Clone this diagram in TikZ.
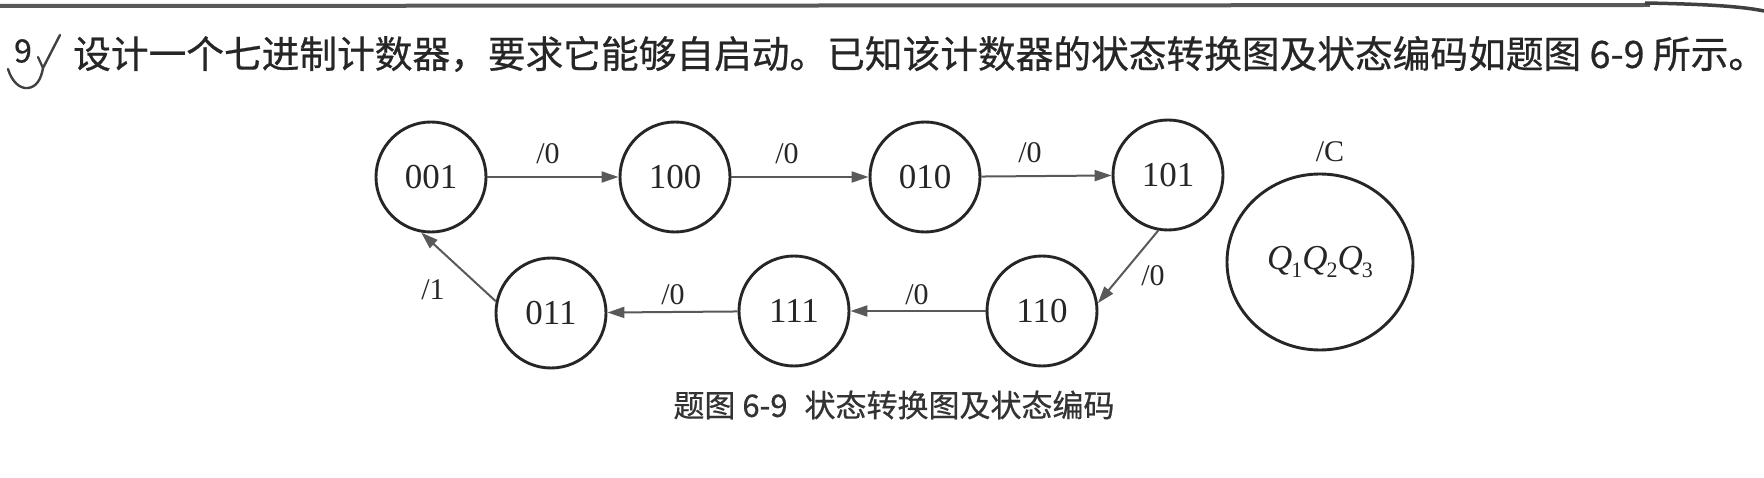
\documentclass[tikz,border=0pt]{standalone}
\usepackage{fontspec}
\setmainfont{Liberation Serif}
\newfontfamily\cjk[FakeBold=0.6]{Noto Sans CJK SC}
\usetikzlibrary{arrows.meta,shapes.geometric}
\newcommand{\qsub}[1]{\textit{Q}\kern-1pt\raisebox{-0.22em}{\fontsize{22}{22}\selectfont #1}}
\begin{document}
\begin{tikzpicture}[x=1pt,y=-1pt,
  state/.style={circle,draw=black!85,line width=2.9pt,minimum size=110pt,inner sep=0pt,font=\fontsize{35}{35}\selectfont,text=black!85},
  trans/.style={draw=black!65,line width=2pt,-{Triangle[length=17pt,width=11pt]}},
  lbl/.style={font=\fontsize{30}{30}\selectfont,text=black!85,inner sep=0pt}]
\useasboundingbox[fill=white] (0,0) rectangle (1764,478);
% top rule
\draw[line width=4pt,black!65] (0,6) -- (1650,5);
\draw[line width=3.5pt,black!75] (1645,3) .. controls (1700,4) and (1740,6) .. (1764,11);
% question number and check mark
\node[font=\cjk\fontsize{32}{32}\selectfont,text=black!85] (num) at (23,51) {9};
\draw[line width=2.4pt,black!75,line cap=round,line join=round] (8,69) .. controls (12,82) and (20,89) .. (28,88) .. controls (36,87) and (41,80) .. (43,68) -- (60,35);
\draw[line width=2.2pt,black!75,line cap=round] (38,57) -- (43,68);
% title
\node[anchor=west,font=\cjk\fontsize{37.7}{39}\selectfont,text=black!85,inner sep=0pt] (title) at (73,54) {设计一个七进制计数器，要求它能够自启动。已知该计数器的状态转换图及状态编码如题图 6-9 所示。};
% states
\node[state] (s001) at (431,177) {001};
\node[state] (s100) at (675,177) {100};
\node[state] (s010) at (925,177) {010};
\node[state] (s101) at (1168,175) {101};
\node[state] (s110) at (1042,311) {110};
\node[state] (s111) at (794,311) {111};
\node[state] (s011) at (551,313) {011};
\node[ellipse,draw=black!85,line width=2.9pt,minimum width=186pt,minimum height=176pt,inner sep=0pt,font=\fontsize{35}{35}\selectfont,text=black!85] (code) at (1320,262) {\qsub{1}\qsub{2}\qsub{3}};
\node[lbl] (lc) at (1330,152) {/C};
% transitions
\draw[trans] (s001) -- (s100);
\draw[trans] (s100) -- (s010);
\draw[trans] (s010) -- (s101);
\draw[trans] (s101.-100) -- (s110.8);
\draw[trans] (s110) -- (s111);
\draw[trans] (s111) -- (s011);
\draw[trans] (s011.168) -- (s001.-100);
% labels
\node[lbl] (l1) at (548,154) {/0};
\node[lbl] (l2) at (787,154) {/0};
\node[lbl] (l3) at (1030,153) {/0};
\node[lbl] (l4) at (1153,276) {/0};
\node[lbl] (l5) at (917,295) {/0};
\node[lbl] (l6) at (673,295) {/0};
\node[lbl] (l7) at (433,290) {/1};
% caption
\node[font=\cjk\fontsize{31}{32}\selectfont,text=black!80] (cap) at (894,405) {题图 6-9\hspace{10pt} 状态转换图及状态编码};
\end{tikzpicture}
\end{document}
